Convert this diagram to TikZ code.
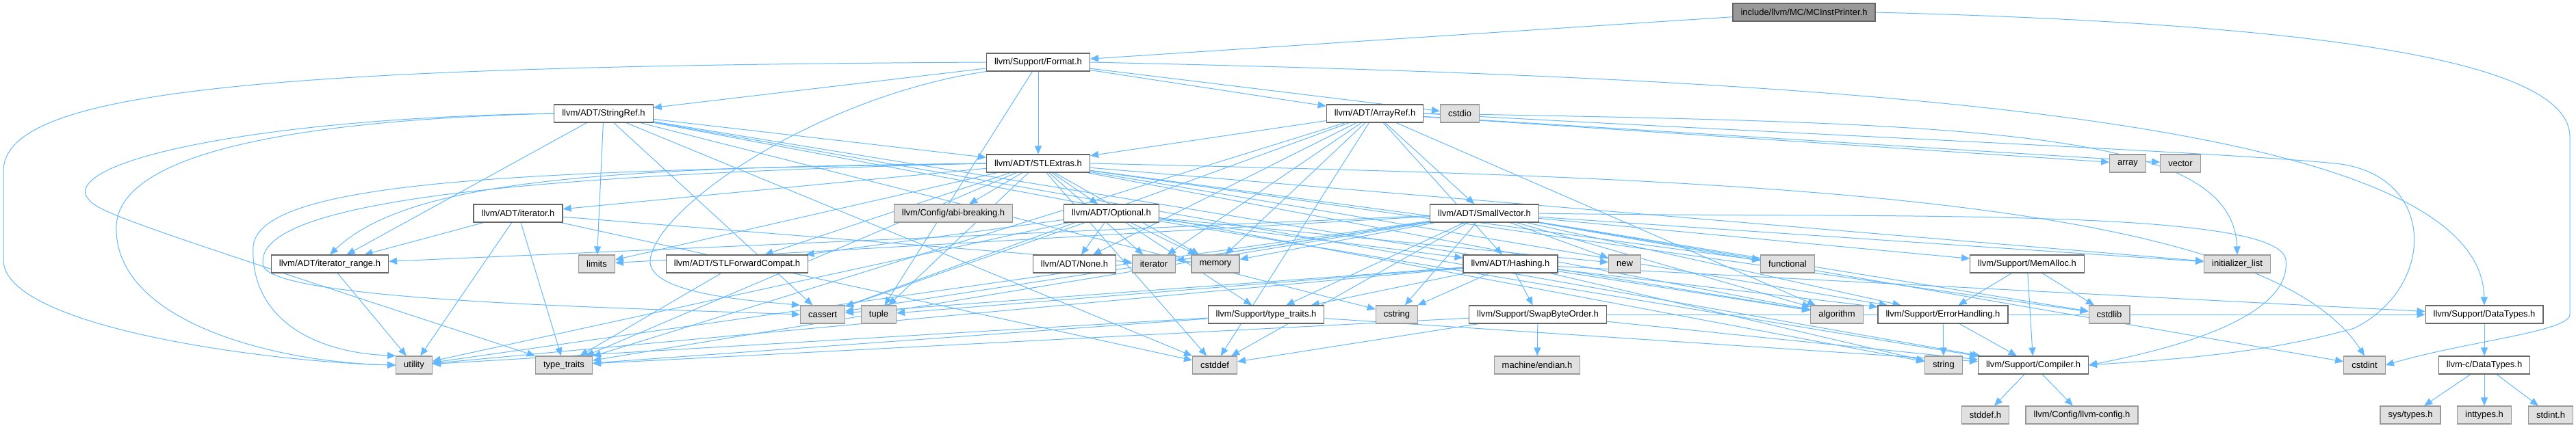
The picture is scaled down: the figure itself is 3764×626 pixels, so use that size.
\documentclass[tikz,border=0pt]{standalone}
\usepackage{fontspec}
\setmainfont{Liberation Sans}
\usetikzlibrary{arrows.meta,backgrounds}
\definecolor{edgeblue}{RGB}{99,184,255}
\definecolor{sysgray}{RGB}{224,224,224}

\begin{document}
\begin{tikzpicture}[
  x=1pt, y=-1pt,
  hdrbox/.style={draw=black!60, fill=white, line width=1.2pt, minimum height=26pt, inner xsep=11.5pt, inner ysep=0pt, font=\fontsize{13}{15}\selectfont},
  sysbox/.style={hdrbox, draw=black!40, fill=sysgray},
  rootbox/.style={hdrbox, fill=black!40},
  arr/.style={edgeblue, line width=1pt, -{Triangle[length=12pt,width=10pt]}}
]
  \useasboundingbox (0,0) rectangle (3764,626);

  \node[rootbox] (mc) at (2636,18) {include/llvm/MC/MCInstPrinter.h};
  \node[hdrbox] (fmt) at (1517,91) {llvm/Support/Format.h};
  \node[hdrbox] (sref) at (882,166) {llvm/ADT/StringRef.h};
  \node[hdrbox] (aref) at (2009,166) {llvm/ADT/ArrayRef.h};
  \node[sysbox] (cstdio) at (2133,166) {cstdio};
  \node[hdrbox] (stlx) at (1517,239) {llvm/ADT/STLExtras.h};
  \node[sysbox] (array) at (3109,239) {array};
  \node[sysbox] (vector) at (3186,239) {vector};
  \node[hdrbox] (iter) at (757,312) {llvm/ADT/iterator.h};
  \node[sysbox] (abi) at (1393,312) {llvm/Config/abi-breaking.h};
  \node[hdrbox] (opt) at (1624,312) {llvm/ADT/Optional.h};
  \node[hdrbox] (svec) at (2169,312) {llvm/ADT/SmallVector.h};
  \node[hdrbox] (irange) at (482,386) {llvm/ADT/iterator\_range.h};
  \node[sysbox] (limits) at (872,386) {limits};
  \node[hdrbox] (fwd) at (1077,386) {llvm/ADT/STLForwardCompat.h};
  \node[hdrbox] (none) at (1570,386) {llvm/ADT/None.h};
  \node[sysbox] (iterator) at (1686,386) {iterator};
  \node[sysbox] (memory) at (1776,386) {memory};
  \node[hdrbox] (hash) at (2207,386) {llvm/ADT/Hashing.h};
  \node[sysbox] (new) at (2374,386) {new};
  \node[sysbox] (functional) at (2612,386) {functional};
  \node[hdrbox] (malloc) at (2962,386) {llvm/Support/MemAlloc.h};
  \node[sysbox] (initlist) at (3269,386) {initializer\_list};
  \node[sysbox] (cassert) at (1202,460) {cassert};
  \node[sysbox] (tuple) at (1284,460) {tuple};
  \node[hdrbox] (tt) at (1850,460) {llvm/Support/type\_traits.h};
  \node[sysbox] (cstring) at (2041,460) {cstring};
  \node[hdrbox] (swap) at (2247,460) {llvm/Support/SwapByteOrder.h};
  \node[sysbox] (algorithm) at (2684,460) {algorithm};
  \node[hdrbox] (err) at (2839,460) {llvm/Support/ErrorHandling.h};
  \node[sysbox] (cstdlib) at (3082,460) {cstdlib};
  \node[hdrbox] (dtypes) at (3630,460) {llvm/Support/DataTypes.h};
  \node[sysbox] (utility) at (605,534) {utility};
  \node[sysbox] (stdtt) at (824,534) {type\_traits};
  \node[sysbox] (cstddef) at (1775,534) {cstddef};
  \node[sysbox] (endian) at (2246,534) {machine/endian.h};
  \node[sysbox] (string) at (2840,534) {string};
  \node[hdrbox] (comp) at (2971,534) {llvm/Support/Compiler.h};
  \node[sysbox] (cstdint) at (3455,534) {cstdint};
  \node[hdrbox] (cdtypes) at (3630,534) {llvm-c/DataTypes.h};
  \node[sysbox] (stddefh) at (2901,607) {stddef.h};
  \node[sysbox] (cfg) at (3042,607) {llvm/Config/llvm-config.h};
  \node[sysbox] (systypes) at (3522,607) {sys/types.h};
  \node[sysbox] (inttypes) at (3630,607) {inttypes.h};
  \node[sysbox] (stdinth) at (3727,607) {stdint.h};

  \begin{scope}[on background layer]
  \draw[arr] (mc) -- (fmt);
  \draw[arr] (mc.east) .. controls (3400,35) and (3755,90) .. (3755,200) -- (3755,460) .. controls (3755,485) and (3600,500) .. (cstdint.east);
  \draw[arr] (fmt) -- (sref); \draw[arr] (fmt) -- (aref); \draw[arr] (fmt) -- (stlx); \draw[arr] (fmt) -- (cstdio);
  \draw[arr] (fmt) -- (tuple);
  \draw[arr] (fmt.south west) .. controls (1200,140) and (960,300) .. (950,380) .. controls (945,430) and (1100,440) .. (cassert.north west);
  \draw[arr] (fmt.west) .. controls (400,97) and (5,130) .. (5,250) -- (5,380) .. controls (5,480) and (400,530) .. (utility.west);
  \draw[arr] (fmt.east) .. controls (2700,115) and (3625,170) .. (dtypes.north);
  \draw[arr] (sref) -- (stlx); \draw[arr] (sref) -- (irange); \draw[arr] (sref) -- (comp); \draw[arr] (sref) -- (algorithm);
  \draw[arr] (sref) -- (cassert); \draw[arr] (sref) -- (cstddef); \draw[arr] (sref) -- (cstring); \draw[arr] (sref) -- (limits);
  \draw[arr] (sref) -- (string);
  \draw[arr] (sref.west) .. controls (400,172) and (110,230) .. (125,285) .. controls (140,310) .. (stdtt.north west);
  \draw[arr] (sref.west) .. controls (450,175) and (175,220) .. (170,330) .. controls (165,470) and (400,530) .. (utility.west);
  \draw[arr] (aref) -- (hash); \draw[arr] (aref) -- (none); \draw[arr] (aref) -- (svec); \draw[arr] (aref) -- (stlx);
  \draw[arr] (aref) -- (algorithm); \draw[arr] (aref) -- (array); \draw[arr] (aref) -- (cassert);
  \draw[arr] (aref) -- (cstddef); \draw[arr] (aref) -- (iterator); \draw[arr] (aref) -- (memory);
  \draw[arr] (aref) -- (stdtt); \draw[arr] (aref) -- (vector);
  \draw[arr] (aref.east) .. controls (2900,180) and (3262,190) .. (initlist.north);
  \draw[arr] (aref.east) .. controls (2600,195) and (3300,225) .. (3420,240) .. controls (3560,260) and (3560,420) .. (3440,480) .. controls (3300,520) and (3150,527) .. (comp.east);
  \draw[arr] (stlx) -- (opt); \draw[arr] (stlx) -- (fwd); \draw[arr] (stlx) -- (iter);
  \draw[arr] (stlx) -- (abi); \draw[arr] (stlx) -- (err); \draw[arr] (stlx) -- (algorithm);
  \draw[arr] (stlx) -- (cstddef); \draw[arr] (stlx) -- (cstdlib); \draw[arr] (stlx) -- (functional);
  \draw[arr] (stlx) -- (initlist); \draw[arr] (stlx) -- (iterator); \draw[arr] (stlx) -- (limits); \draw[arr] (stlx) -- (memory);
  \draw[arr] (stlx) -- (tuple); \draw[arr] (stlx) -- (stdtt);
  \draw[arr] (stlx.west) .. controls (900,245) and (600,260) .. (irange.north);
  \draw[arr] (stlx.west) .. controls (800,250) and (380,260) .. (370,360) .. controls (365,460) and (450,515) .. (utility.north west);
  \draw[arr] (stlx.west) .. controls (800,255) and (360,290) .. (385,390) .. controls (410,440) and (900,450) .. (cassert.west);
  \draw[arr] (stlx.east) .. controls (2500,260) and (3300,280) .. (cstdint.north);
  \draw[arr] (opt) -- (hash); \draw[arr] (opt) -- (none); \draw[arr] (opt) -- (fwd); \draw[arr] (opt) -- (comp);
  \draw[arr] (opt) -- (tt); \draw[arr] (opt) -- (cassert); \draw[arr] (opt) -- (memory); \draw[arr] (opt) -- (new);
  \draw[arr] (opt) -- (utility);
  \draw[arr] (iter) -- (irange); \draw[arr] (iter) -- (cstddef); \draw[arr] (iter) -- (iterator); \draw[arr] (iter) -- (stdtt);
  \draw[arr] (iter) -- (utility);
  \draw[arr] (irange) -- (utility);
  \draw[arr] (fwd) -- (stdtt);
  \draw[arr] (svec) -- (irange); \draw[arr] (svec) -- (err); \draw[arr] (svec) -- (malloc);
  \draw[arr] (svec) -- (tt); \draw[arr] (svec) -- (algorithm); \draw[arr] (svec) -- (cassert); \draw[arr] (svec) -- (cstddef);
  \draw[arr] (svec) -- (cstdint); \draw[arr] (svec) -- (cstdlib); \draw[arr] (svec) -- (cstring); \draw[arr] (svec) -- (functional);
  \draw[arr] (svec) -- (initlist); \draw[arr] (svec) -- (iterator); \draw[arr] (svec) -- (limits); \draw[arr] (svec) -- (memory);
  \draw[arr] (svec) -- (new); \draw[arr] (svec) -- (stdtt); \draw[arr] (svec) -- (utility);
  \draw[arr] (svec.east) .. controls (2700,320) and (3330,300) .. (3340,380) .. controls (3350,470) and (3150,515) .. (comp.east);
  \draw[arr] (hash) -- (dtypes); \draw[arr] (hash) -- (err); \draw[arr] (hash) -- (swap); \draw[arr] (hash) -- (tt);
  \draw[arr] (hash) -- (algorithm); \draw[arr] (hash) -- (cassert); \draw[arr] (hash) -- (cstring); \draw[arr] (hash) -- (string);
  \draw[arr] (hash) -- (tuple); \draw[arr] (hash) -- (utility);
  \draw[arr] (tt) -- (comp); \draw[arr] (tt) -- (stdtt); \draw[arr] (tt) -- (utility);
  \draw[arr] (swap) -- (comp); \draw[arr] (swap) -- (dtypes); \draw[arr] (swap) -- (cstddef); \draw[arr] (swap) -- (stdtt);
  \draw[arr] (swap) -- (endian);
  \draw[arr] (malloc) -- (comp); \draw[arr] (malloc) -- (err); \draw[arr] (malloc) -- (cstdlib);
  \draw[arr] (err) -- (comp); \draw[arr] (err) -- (string);
  \draw[arr] (comp) -- (stddefh); \draw[arr] (comp) -- (cfg);
  \draw[arr] (dtypes) -- (cdtypes);
  \draw[arr] (cdtypes) -- (systypes); \draw[arr] (cdtypes) -- (inttypes); \draw[arr] (cdtypes) -- (stdinth);
  \end{scope}
\end{tikzpicture}
\end{document}
